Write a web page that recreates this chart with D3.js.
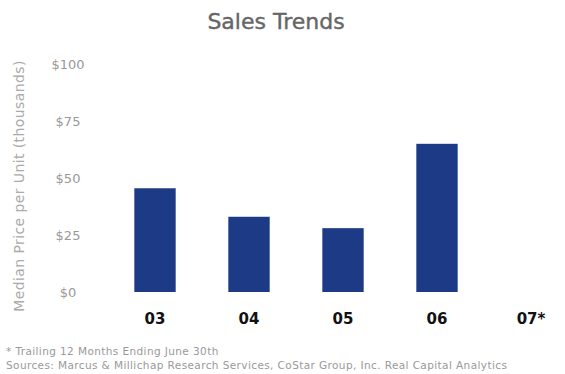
<!DOCTYPE html>
<html><head><meta charset="utf-8">
<script src="https://cdn.jsdelivr.net/npm/d3@7"></script>
<style>body{margin:0;background:#fff}</style>
</head><body>
<svg id="c" width="565" height="374"></svg>
<script>
const categories = ["03","04","05","06","07*"];
const values = [45.5, 33, 28, 65, null];
const yTicks = [0,25,50,75,100];
const tickLabels = ["$0","$25","$50","$75","$100"];
const title = "Sales Trends";
const yTitle = "Median Price per Unit (thousands)";
const notes = ["* Trailing 12 Months Ending June 30th",
  "Sources: Marcus & Millichap Research Services, CoStar Group, Inc. Real Capital Analytics"];

const svg = d3.select("#c");
const font = "DejaVu Sans, Verdana, sans-serif";
const x = d3.scaleBand().domain(categories).range([108, 578]).paddingInner(0.56).paddingOuter(0.28);
const y = d3.scaleLinear().domain([0,100]).range([292, 64]);

svg.append("text").attr("x",276).attr("y",29).attr("text-anchor","middle")
  .attr("font-family",font).attr("font-size",22).attr("fill","#666")
  .attr("stroke","#666").attr("stroke-width",0.4).text(title);

const yAxis = d3.axisLeft(y).tickValues(yTicks).tickFormat((d,i)=>tickLabels[i]).tickSize(0).tickPadding(0);
const ga = svg.append("g").attr("transform","translate(82,0)").call(yAxis);
ga.select(".domain").remove();
ga.selectAll("text").attr("font-family",font).attr("font-size",13).attr("fill","#999")
  .attr("text-anchor","middle").attr("x",-14);

svg.append("text").attr("transform","translate(24,186) rotate(-90)").attr("text-anchor","middle")
  .attr("font-family",font).attr("font-size",14).attr("letter-spacing",0.4).attr("fill","#aaa").text(yTitle);

svg.selectAll("rect.bar").data(categories.map((c,i)=>({c,v:values[i]})).filter(d=>d.v!=null))
  .enter().append("rect").attr("class","bar")
  .attr("x",d=>x(d.c)).attr("width",x.bandwidth())
  .attr("y",d=>y(d.v)).attr("height",d=>y(0)-y(d.v))
  .attr("fill","#1c3a85");

const xAxis = d3.axisBottom(x).tickSize(0).tickPadding(0);
const gx = svg.append("g").attr("transform","translate(0,312)").call(xAxis);
gx.select(".domain").remove();
gx.selectAll("text").attr("font-family",font).attr("font-size",15).attr("font-weight","bold").attr("fill","#111").attr("dy","0.8em");

svg.selectAll("text.note").data(notes).enter().append("text").attr("class","note")
  .attr("x",6).attr("y",(d,i)=>355+i*14).attr("font-family",font).attr("font-size",10.5)
  .attr("letter-spacing",0.4).attr("fill","#999").text(d=>d);
</script>
</body></html>
